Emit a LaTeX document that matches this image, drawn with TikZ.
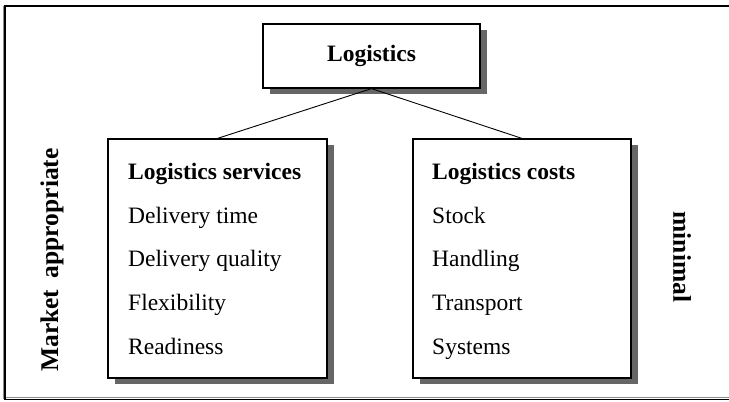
\documentclass[tikz,border=0pt]{standalone}
\usepackage{fontspec}
\setmainfont{Liberation Serif}
\usetikzlibrary{shadows}
\begin{document}
\begin{tikzpicture}[x=1pt,y=-1pt,
  boxshape/.style={draw=black, line width=1.2pt, fill=white,
    drop shadow={shadow xshift=7pt, shadow yshift=-6pt, fill=black!60, opacity=1},
    inner sep=0pt},
  itemtext/.style={anchor=base west, inner sep=0pt, font=\fontsize{23.5}{27}\selectfont},
  headtext/.style={itemtext, font=\fontsize{23.5}{27}\selectfont\bfseries},
  toptext/.style={inner sep=0pt, font=\fontsize{23.5}{27}\selectfont\bfseries},
  sidetext/.style={inner sep=0pt, font=\fontsize{25.5}{29}\selectfont\bfseries},
  link/.style={draw=black, line width=0.9pt}]
\useasboundingbox (0,0) rectangle (729,402);
% outer frame (open on the right)
\draw[black!45, line width=1pt] (3.5,6) -- (3.5,399);
\draw[black!45, line width=1pt] (5,397.5) -- (729,397.5);
\draw[black, line width=1.2pt] (729,6) -- (5,6) -- (5,399.5) -- (729,399.5);
% boxes
\node[boxshape, minimum width=217pt, minimum height=64pt] (top) at (371.5,56) {};
\node[boxshape, minimum width=219pt, minimum height=239pt] (left) at (217.5,258.5) {};
\node[boxshape, minimum width=218pt, minimum height=239pt] (right) at (522,258.5) {};
% connectors
\draw[link] (top.south) -- (left.north);
\draw[link] (top.south) -- (right.north);
% texts
\node[toptext] (toptxt) at (top.center) {Logistics};
\node[headtext] (l0) at (128,179) {Logistics services};
\node[itemtext] (l1) at (128,223) {Delivery time};
\node[itemtext] (l2) at (128,266.5) {Delivery quality};
\node[itemtext] (l3) at (128,310) {Flexibility};
\node[itemtext] (l4) at (128,354) {Readiness};
\node[headtext] (r0) at (432,179) {Logistics costs};
\node[itemtext] (r1) at (432,223) {Stock};
\node[itemtext] (r2) at (432,266.5) {Handling};
\node[itemtext] (r3) at (432,310) {Transport};
\node[itemtext] (r4) at (432,354) {Systems};
\node[sidetext, rotate=90] (market) at (52,260) {Market\hspace{0.45em}appropriate};
\node[sidetext, rotate=-90] (minimal) at (682,257) {minimal};
\end{tikzpicture}
\end{document}
